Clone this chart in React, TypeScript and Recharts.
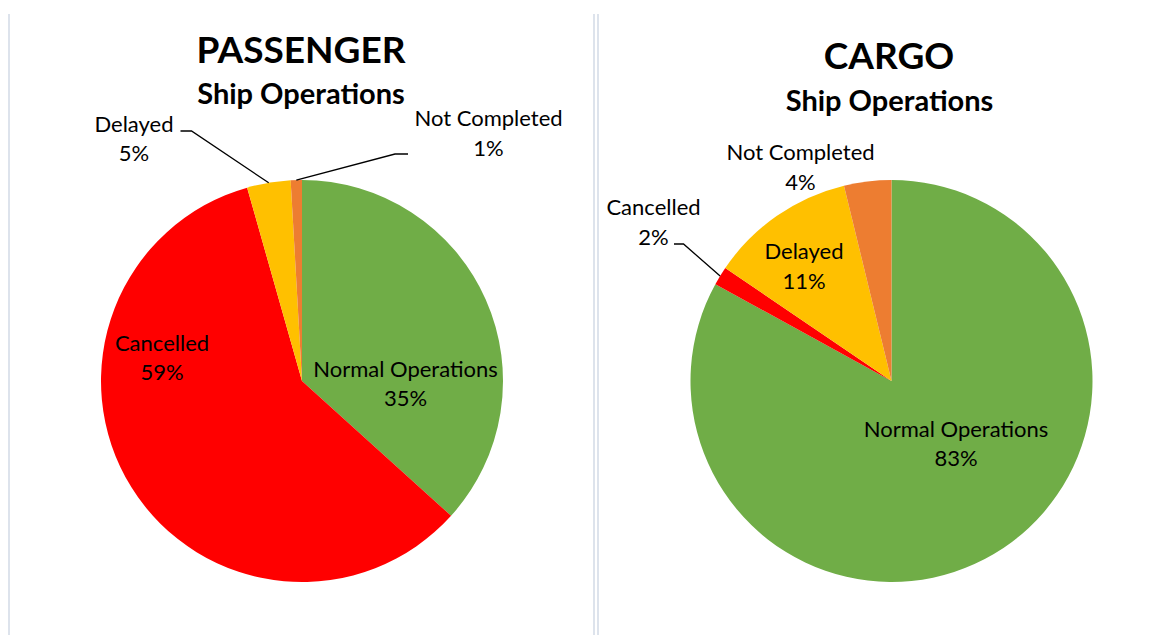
import React from 'react'
import { PieChart, Pie, Cell } from 'recharts'

// slice order is clockwise from 12 o'clock
const categories = ['Normal Operations', 'Cancelled', 'Delayed', 'Not Completed']
const passengerValues = [36.7, 58.9, 3.5, 0.9]
const cargoValues = [83.0, 1.5, 11.7, 3.8]
const passengerLabels = ['35%', '59%', '5%', '1%']
const cargoLabels = ['83%', '2%', '11%', '4%']

const colors = ['#70AD47', '#FF0000', '#FFC000', '#ED7D31']

const W = 1170
const H = 635
const R = 201
const FONT = 'Lato, "Open Sans", sans-serif'
const RAD = Math.PI / 180

// label placement per slice, relative to pie centre (dx = text centre, by = first baseline)
type LabelPos = { dx: number; by: number; elbow?: [number, number]; tail?: number }

const passengerPos: LabelPos[] = [
  { dx: 103.5, by: -4.5 },
  { dx: -140, by: -30.5 },
  { dx: -168, by: -249.5, elbow: [-110.5, -250], tail: -11 },
  { dx: 186.5, by: -255, elbow: [93, -227], tail: 13 },
]

const cargoPos: LabelPos[] = [
  { dx: 64.5, by: 55.5 },
  { dx: -238, by: -166, elbow: [-208, -137], tail: -9.5 },
  { dx: -87.5, by: -122 },
  { dx: -91, by: -221 },
]

const makeData = (values: number[], labels: string[]) =>
  categories.map((name, i) => ({ name, value: values[i], pct: labels[i] }))

const passengerData = makeData(passengerValues, passengerLabels)
const cargoData = makeData(cargoValues, cargoLabels)

const makeLabel = (layout: LabelPos[]) => (props: any) => {
  const { cx, cy, midAngle, outerRadius, index, payload } = props
  const pos = layout[index]
  const tx = cx + pos.dx
  const ty = cy + pos.by
  let line = null
  if (pos.elbow) {
    const ex = cx + outerRadius * Math.cos(-midAngle * RAD)
    const ey = cy + outerRadius * Math.sin(-midAngle * RAD)
    const bx = cx + pos.elbow[0]
    const byy = cy + pos.elbow[1]
    line = (
      <polyline
        points={`${ex},${ey} ${bx},${byy} ${bx + (pos.tail || 0)},${byy}`}
        fill="none"
        stroke="#000"
        strokeWidth={1.3}
      />
    )
  }
  return (
    <g key={`lbl-${index}`}>
      {line}
      <text x={tx} y={ty} textAnchor="middle" fontFamily={FONT} fontSize={22} fill="#000">
        {payload.name}
      </text>
      <text x={tx} y={ty + 29.5} textAnchor="middle" fontFamily={FONT} fontSize={22} fill="#000">
        {payload.pct}
      </text>
    </g>
  )
}

export default function App() {
  return (
    <div style={{ position: 'absolute', left: 0, top: 0, width: W, height: H, background: '#fff' }}>
      <svg width={W} height={H} style={{ position: 'absolute', left: 0, top: 0 }}>
        <rect x={8} y={14} width={2} height={H - 14} fill="#DDE3EC" />
        <rect x={593} y={14} width={2} height={H - 14} fill="#DDE3EC" />
        <rect x={597} y={14} width={2} height={H - 14} fill="#DDE3EC" />
        <g fontFamily={FONT} fontWeight={700} fill="#000" textAnchor="middle">
          <text x={301} y={63} fontSize={37}>PASSENGER</text>
          <text x={301} y={104} fontSize={29}>Ship Operations</text>
          <text x={889} y={68.5} fontSize={37}>CARGO</text>
          <text x={889.5} y={110.5} fontSize={29}>Ship Operations</text>
        </g>
      </svg>
      <div style={{ position: 'absolute', left: 0, top: 0 }}>
        <PieChart width={W} height={H} margin={{ top: 0, right: 0, bottom: 0, left: 0 }}>
          <Pie
            data={passengerData}
            dataKey="value"
            nameKey="name"
            cx={302}
            cy={381}
            outerRadius={R}
            startAngle={90}
            endAngle={-270}
            stroke="none"
            label={makeLabel(passengerPos)}
            labelLine={false}
            isAnimationActive={false}
          >
            {passengerData.map((d, i) => (
              <Cell key={`p-${i}`} fill={colors[i]} />
            ))}
          </Pie>
          <Pie
            data={cargoData}
            dataKey="value"
            nameKey="name"
            cx={891.5}
            cy={381}
            outerRadius={R}
            startAngle={90}
            endAngle={-270}
            stroke="none"
            label={makeLabel(cargoPos)}
            labelLine={false}
            isAnimationActive={false}
          >
            {cargoData.map((d, i) => (
              <Cell key={`c-${i}`} fill={colors[i]} />
            ))}
          </Pie>
        </PieChart>
      </div>
    </div>
  )
}
